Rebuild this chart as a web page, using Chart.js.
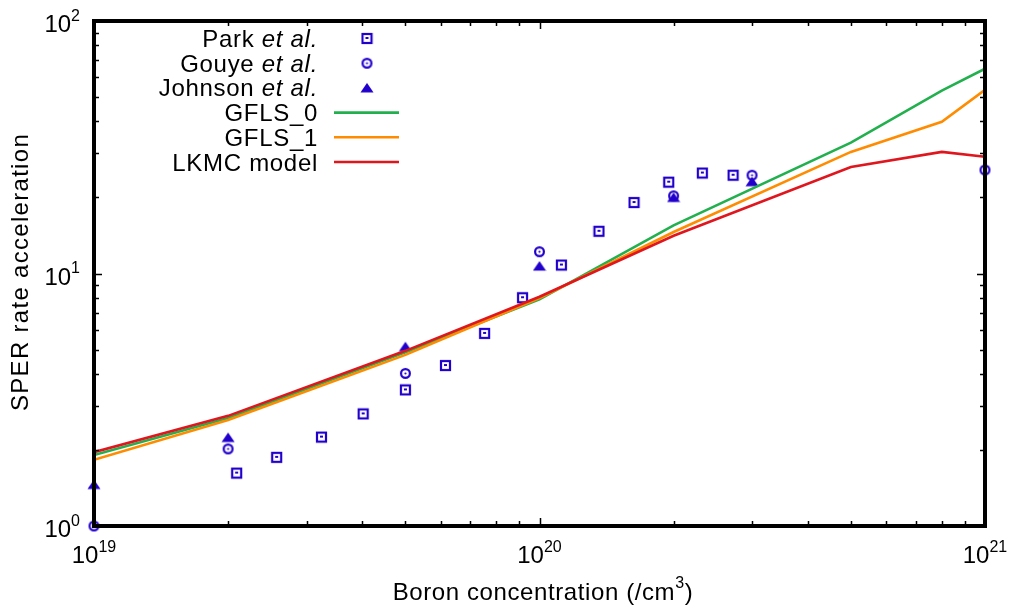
<!DOCTYPE html>
<html>
<head>
<meta charset="utf-8">
<script src="https://cdn.jsdelivr.net/npm/chart.js@4"></script>
<style>
html,body{margin:0;padding:0;background:#fff;}
#c{display:block;}
</style>
</head>
<body>
<canvas id="c" width="1011" height="610"></canvas>
<script>
// ---- Data ----
const parkX = [2.09e19, 2.57e19, 3.24e19, 4.02e19, 5.0e19, 6.15e19, 7.53e19, 9.16e19, 1.12e20, 1.36e20, 1.63e20, 1.95e20, 2.32e20, 2.72e20];
const parkY = [1.62, 1.87, 2.25, 2.78, 3.46, 4.32, 5.79, 8.02, 10.8, 14.7, 19.1, 23.0, 25.0, 24.5];

const gouyeX = [1e19, 2e19, 5e19, 1e20, 2e20, 3e20, 1e21];
const gouyeY = [1.0, 2.02, 4.02, 12.2, 20.3, 24.5, 25.7];

const johnsonX = [1e19, 2e19, 5e19, 1e20, 2e20, 3e20];
const johnsonY = [1.46, 2.24, 5.13, 10.7, 20.0, 23.1];

const modelX = [1e19, 2e19, 5e19, 1e20, 2e20, 5e20, 8e20, 1e21];
const gfls0Y = [1.91, 2.68, 4.87, 7.90, 15.5, 33.0, 53.0, 64.7];
const gfls1Y = [1.83, 2.63, 4.76, 8.0, 14.6, 30.3, 39.9, 53.4];
const lkmcY  = [1.96, 2.73, 4.94, 8.09, 14.1, 26.4, 30.3, 29.0];

const xExponents = [19, 20, 21];
const yExponents = [0, 1, 2];

const labels = {
  park: ["Park ", "et al."],
  gouye: ["Gouye ", "et al."],
  johnson: ["Johnson ", "et al."],
  gfls0: "GFLS_0",
  gfls1: "GFLS_1",
  lkmc: "LKMC model",
  xTitle: ["Boron concentration (/cm", "3", ")"],
  yTitle: "SPER rate acceleration"
};

// ---- Styles ----
const BLUE = '#2200cc';
const GREEN = '#22b04e';
const ORANGE = '#ff8c00';
const RED = '#e0161e';
const FONT = '"Liberation Sans", Arial, sans-serif';

function makeSquare(){
  const c = document.createElement('canvas'); c.width = 13; c.height = 13;
  const g = c.getContext('2d');
  g.strokeStyle = BLUE; g.lineWidth = 2.2;
  g.strokeRect(2, 2, 9, 9);
  g.fillStyle = BLUE; g.fillRect(5, 5, 3, 2);
  return c;
}
function makeCircle(){
  const c = document.createElement('canvas'); c.width = 13; c.height = 13;
  const g = c.getContext('2d');
  g.strokeStyle = BLUE; g.lineWidth = 2.2;
  g.beginPath(); g.arc(6.5, 6.5, 4.4, 0, Math.PI * 2); g.stroke();
  g.fillStyle = BLUE; g.beginPath(); g.arc(6.5, 6.5, 1.1, 0, Math.PI * 2); g.fill();
  return c;
}
function makeTriangle(){
  const c = document.createElement('canvas'); c.width = 14; c.height = 14;
  const g = c.getContext('2d');
  g.fillStyle = BLUE;
  g.beginPath(); g.moveTo(7, 2); g.lineTo(13.5, 11.5); g.lineTo(0.5, 11.5); g.closePath(); g.fill();
  return c;
}
const sqImg = makeSquare(), ciImg = makeCircle(), trImg = makeTriangle();

const toXY = (xs, ys) => xs.map((x, i) => ({x: x, y: ys[i]}));

const pointDs = (label, xs, ys, img, order) => ({
  label: label, data: toXY(xs, ys), showLine: false,
  pointStyle: img, pointRadius: 6, pointHoverRadius: 6,
  borderColor: BLUE, backgroundColor: BLUE, clip: false, order: order
});
const lineDs = (label, ys, color, order) => ({
  label: label, data: toXY(modelX, ys), showLine: true,
  borderColor: color, backgroundColor: color, borderWidth: 2.6,
  pointRadius: 0, tension: 0, order: order
});

function setLS(ctx, v){ if ('letterSpacing' in ctx) ctx.letterSpacing = v + 'px'; }

// ---- Decorations plugin: frame, inward ticks, labels, titles, legend ----
const decor = {
  id: 'decor',
  afterDatasetsDraw(chart){
    const ctx = chart.ctx, a = chart.chartArea;
    const xs = chart.scales.x, ys = chart.scales.y;
    ctx.save();
    ctx.strokeStyle = '#000';
    // ticks
    ctx.lineWidth = 1.5;
    ctx.beginPath();
    for (let d = 19; d <= 21; d++) {
      for (let m = 1; m <= 9; m++) {
        const v = m * Math.pow(10, d);
        if (v < 1e19 || v > 1e21 * 1.0001) continue;
        const p = Math.round(xs.getPixelForValue(v)) + 0.5;
        const len = m === 1 ? 8 : 5;
        ctx.moveTo(p, a.bottom); ctx.lineTo(p, a.bottom - len);
        ctx.moveTo(p, a.top); ctx.lineTo(p, a.top + len);
      }
    }
    for (let d = 0; d <= 2; d++) {
      for (let m = 1; m <= 9; m++) {
        const v = m * Math.pow(10, d);
        if (v < 1 || v > 100.0001) continue;
        const p = Math.round(ys.getPixelForValue(v)) + 0.5;
        const len = m === 1 ? 8 : 5;
        ctx.moveTo(a.left, p); ctx.lineTo(a.left + len, p);
        ctx.moveTo(a.right, p); ctx.lineTo(a.right - len, p);
      }
    }
    ctx.stroke();
    // frame
    ctx.lineWidth = 4;
    ctx.strokeRect(a.left, a.top, a.right - a.left, a.bottom - a.top);

    ctx.fillStyle = '#000';
    ctx.textBaseline = 'alphabetic';
    const base = '24px ' + FONT, sup = '16px ' + FONT;
    setLS(ctx, 0);
    // x tick labels
    xExponents.forEach(e => {
      const p = xs.getPixelForValue(Math.pow(10, e));
      ctx.font = base; const w1 = ctx.measureText('10').width;
      ctx.font = sup; const w2 = ctx.measureText(String(e)).width;
      const x0 = p - (w1 + w2) / 2;
      ctx.textAlign = 'left';
      ctx.font = base; ctx.fillText('10', x0, 563);
      ctx.font = sup; ctx.fillText(String(e), x0 + w1, 551.5);
    });
    // y tick labels
    yExponents.forEach(e => {
      const p = ys.getPixelForValue(Math.pow(10, e));
      const right = 80;
      ctx.font = sup; const w2 = ctx.measureText(String(e)).width;
      ctx.textAlign = 'right';
      ctx.fillText(String(e), right, p + 11 - 11.5);
      ctx.font = base; ctx.fillText('10', right - w2, p + 11);
    });
    // x title
    setLS(ctx, 0.6);
    ctx.font = base;
    const t0 = ctx.measureText(labels.xTitle[0]).width;
    const t2 = ctx.measureText(labels.xTitle[2]).width;
    ctx.font = sup;
    const t1 = ctx.measureText(labels.xTitle[1]).width;
    let tx = 543 - (t0 + t1 + t2) / 2;
    ctx.textAlign = 'left';
    ctx.font = base; ctx.fillText(labels.xTitle[0], tx, 600);
    ctx.font = sup; ctx.fillText(labels.xTitle[1], tx + t0, 588);
    ctx.font = base; ctx.fillText(labels.xTitle[2], tx + t0 + t1, 600);
    // y title
    ctx.save();
    setLS(ctx, 1.3);
    ctx.translate(27.5, 272);
    ctx.rotate(-Math.PI / 2);
    ctx.textAlign = 'center';
    ctx.font = base;
    ctx.fillText(labels.yTitle, 0, 0);
    ctx.restore();

    // legend
    setLS(ctx, 0.7);
    const lx = 318, sx0 = 334, sx1 = 399, mx = 367;
    const rows = [38.5, 63.2, 87.9, 112.6, 137.3, 162];
    const italicRow = (parts, cy) => {
      ctx.textAlign = 'left';
      ctx.font = 'italic 24px ' + FONT;
      const wi = ctx.measureText(parts[1]).width;
      ctx.font = base;
      const wn = ctx.measureText(parts[0]).width;
      const x0 = lx - wi - wn;
      ctx.fillText(parts[0], x0, cy + 8.5);
      ctx.font = 'italic 24px ' + FONT;
      ctx.fillText(parts[1], x0 + wn, cy + 8.5);
    };
    italicRow(labels.park, rows[0]);
    italicRow(labels.gouye, rows[1]);
    italicRow(labels.johnson, rows[2]);
    ctx.drawImage(sqImg, mx - 6.5, rows[0] - 6.5);
    ctx.drawImage(ciImg, mx - 6.5, rows[1] - 6.5);
    ctx.drawImage(trImg, mx - 7, rows[2] - 7);
    const lineRow = (txt, color, cy) => {
      ctx.textAlign = 'left'; ctx.font = base; ctx.fillStyle = '#000';
      const w = ctx.measureText(txt).width;
      ctx.fillText(txt, lx - w, cy + 8.5);
      ctx.strokeStyle = color; ctx.lineWidth = 2.6;
      ctx.beginPath(); ctx.moveTo(sx0, cy); ctx.lineTo(sx1, cy); ctx.stroke();
    };
    lineRow(labels.gfls0, GREEN, rows[3]);
    lineRow(labels.gfls1, ORANGE, rows[4]);
    lineRow(labels.lkmc, RED, rows[5]);
    ctx.restore();
  }
};

new Chart(document.getElementById('c'), {
  type: 'scatter',
  data: {
    datasets: [
      pointDs('Park et al.', parkX, parkY, sqImg, 6),
      pointDs('Gouye et al.', gouyeX, gouyeY, ciImg, 5),
      pointDs('Johnson et al.', johnsonX, johnsonY, trImg, 4),
      lineDs('GFLS_0', gfls0Y, GREEN, 3),
      lineDs('GFLS_1', gfls1Y, ORANGE, 2),
      lineDs('LKMC model', lkmcY, RED, 1)
    ]
  },
  options: {
    responsive: false,
    animation: false,
    devicePixelRatio: 1,
    layout: { padding: { left: 94, right: 26, top: 21, bottom: 84 } },
    plugins: { legend: { display: false }, tooltip: { enabled: false }, title: { display: false } },
    events: [],
    scales: {
      x: { type: 'logarithmic', min: 1e19, max: 1e21, display: false },
      y: { type: 'logarithmic', min: 1, max: 100, display: false }
    }
  },
  plugins: [decor]
});
</script>
</body>
</html>
